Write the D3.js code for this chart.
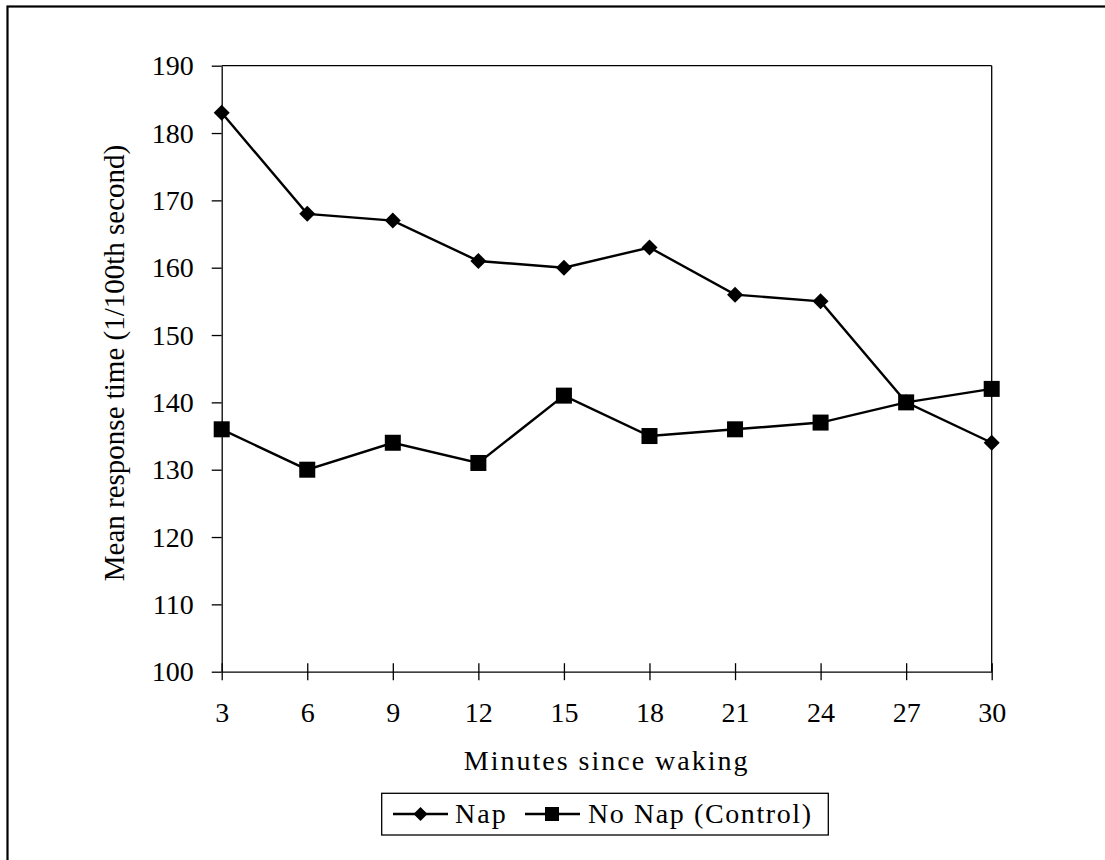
<!DOCTYPE html>
<html>
<head>
<meta charset="utf-8">
<script src="https://cdn.jsdelivr.net/npm/d3@7"></script>
<style>
  html, body { margin: 0; padding: 0; background: #fff; }
  svg { display: block; }
  text { font-family: "Liberation Serif", "Times New Roman", serif; fill: #000; }
</style>
</head>
<body>
<script>
// ---- Data ----
const minutes = [3, 6, 9, 12, 15, 18, 21, 24, 27, 30];
const napValues = [183, 168, 167, 161, 160, 163, 156, 155, 140, 134];
const controlValues = [136, 130, 134, 131, 141, 135, 136, 137, 140, 142];
const yTicks = [100, 110, 120, 130, 140, 150, 160, 170, 180, 190];
const seriesNames = ["Nap", "No Nap (Control)"];
const xTitle = "Minutes since waking";
const yTitle = "Mean response time (1/100th second)";

const W = 1105, H = 860;
const L = 221.7, T = 65.7, PW = 770, PH = 606;

const svg = d3.select("body").append("svg").attr("width", W).attr("height", H);

// outer border (only top/left visible)
svg.append("rect").attr("x", 7.5).attr("y", 6.5).attr("width", W + 20).attr("height", H + 20)
  .attr("fill", "none").attr("stroke", "#000").attr("stroke-width", 2.2);

const x = d3.scaleLinear().domain([3, 30]).range([L, L + PW]);
const y = d3.scaleLinear().domain([100, 190]).range([T + PH, T]);

const fs = 28;

// plot frame top and right
svg.append("line").attr("x1", L).attr("x2", L + PW).attr("y1", T).attr("y2", T)
  .attr("stroke", "#000").attr("stroke-width", 1.3);
svg.append("line").attr("x1", L + PW).attr("x2", L + PW).attr("y1", T).attr("y2", T + PH)
  .attr("stroke", "#000").attr("stroke-width", 1.3);

// Y axis
const yAxis = svg.append("g").attr("transform", `translate(${L},0)`)
  .call(d3.axisLeft(y).tickValues(yTicks).tickSize(10).tickSizeOuter(0).tickPadding(18));
yAxis.selectAll("path,line").attr("stroke", "#000").attr("stroke-width", 1.3);
yAxis.selectAll("text").attr("font-size", fs).attr("dy", "0.33em")
  .style("font-family", '"Liberation Serif", "Times New Roman", serif').attr("fill", "#000");

// X axis
const xAxis = svg.append("g").attr("transform", `translate(0,${T + PH})`)
  .call(d3.axisBottom(x).tickValues(minutes).tickSize(8.5).tickSizeOuter(0).tickPadding(22));
xAxis.selectAll("path,line").attr("stroke", "#000").attr("stroke-width", 1.3);
xAxis.selectAll(".tick line").attr("y1", -8.5).attr("y2", 8.5);
xAxis.selectAll("text").attr("font-size", fs).attr("dy", "0.71em")
  .style("font-family", '"Liberation Serif", "Times New Roman", serif').attr("fill", "#000");

// Titles
svg.append("text").attr("x", L + PW / 2).attr("y", 770).attr("text-anchor", "middle")
  .attr("font-size", fs).attr("letter-spacing", 2).text(xTitle);
svg.append("text").attr("transform", `translate(124,363) rotate(-90)`).attr("text-anchor", "middle")
  .attr("font-size", 29).text(yTitle);

// Lines
const line = d3.line().x((d, i) => x(minutes[i])).y(d => y(d));
svg.append("path").datum(napValues).attr("d", line).attr("fill", "none")
  .attr("stroke", "#000").attr("stroke-width", 2.4);
svg.append("path").datum(controlValues).attr("d", line).attr("fill", "none")
  .attr("stroke", "#000").attr("stroke-width", 2.4);

const diamond = (cx, cy, r) => `M${cx},${cy - r}L${cx + r},${cy}L${cx},${cy + r}L${cx - r},${cy}Z`;

svg.append("g").selectAll("path").data(napValues).join("path")
  .attr("d", (d, i) => diamond(x(minutes[i]), y(d), 8)).attr("fill", "#000");
svg.append("g").selectAll("rect").data(controlValues).join("rect")
  .attr("x", (d, i) => x(minutes[i]) - 8).attr("y", d => y(d) - 8)
  .attr("width", 16).attr("height", 16).attr("fill", "#000");

// Legend
const lg = svg.append("g");
lg.append("rect").attr("x", 381.7).attr("y", 793.3).attr("width", 446.6).attr("height", 41.7)
  .attr("fill", "#fff").attr("stroke", "#000").attr("stroke-width", 1.3);
const ly = 814;
lg.append("line").attr("x1", 393).attr("x2", 448).attr("y1", ly).attr("y2", ly).attr("stroke", "#000").attr("stroke-width", 2.4);
lg.append("path").attr("d", diamond(420.5, ly, 7)).attr("fill", "#000");
lg.append("text").attr("x", 455).attr("y", 823).attr("font-size", fs).attr("letter-spacing", 2).text(seriesNames[0]);
lg.append("line").attr("x1", 525).attr("x2", 580).attr("y1", ly).attr("y2", ly).attr("stroke", "#000").attr("stroke-width", 2.4);
lg.append("rect").attr("x", 545).attr("y", ly - 7).attr("width", 14).attr("height", 14).attr("fill", "#000");
lg.append("text").attr("x", 588).attr("y", 823).attr("font-size", fs).attr("letter-spacing", 1.6).text(seriesNames[1]);
</script>
</body>
</html>
